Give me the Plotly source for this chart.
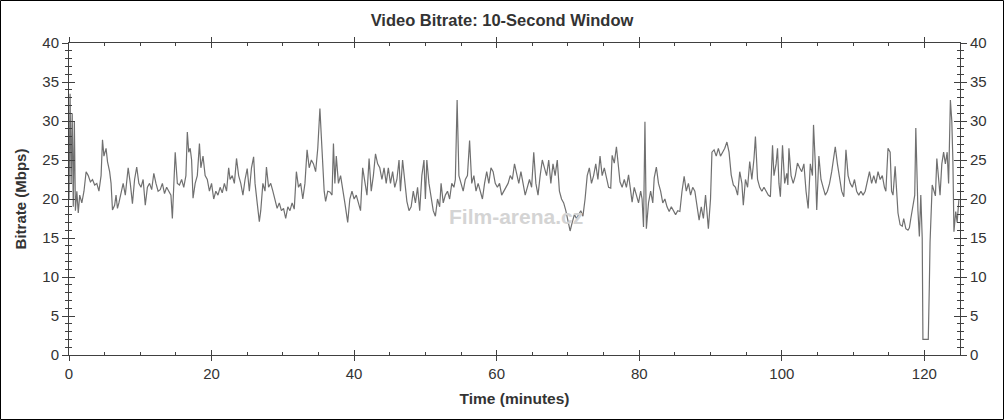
import plotly.graph_objects as go

# ---- data ----
time_min = [
0.0,0.15,0.3,0.45,0.6,0.75,0.9,1.1,1.3,1.5,1.8,2.1,2.4,2.7,3.0,3.3,3.6,3.9,4.2,4.5,4.7,4.9,5.2,5.4,5.7,5.9,6.1,6.4,6.6,6.8,
7.0,7.3,7.6,7.9,8.1,8.3,8.6,8.9,9.2,9.5,9.8,10.1,10.4,10.7,11.0,11.3,11.6,11.9,12.2,12.5,12.8,13.1,13.4,13.7,14.0,14.3,14.5,14.7,14.9,15.2,
15.5,15.8,16.1,16.4,16.6,16.8,17.0,17.2,17.4,17.7,18.0,18.3,18.5,18.8,19.1,19.4,19.7,20.0,20.3,20.6,20.9,21.2,21.5,21.8,22.1,22.4,22.6,22.9,23.2,23.5,
23.8,24.1,24.4,24.7,25.0,25.3,25.6,25.9,26.1,26.4,26.7,26.9,27.2,27.5,27.7,28.0,28.3,28.6,28.9,29.2,29.5,29.8,30.1,30.4,30.7,31.0,31.3,31.6,31.9,32.2,
32.5,32.8,33.1,33.4,33.7,34.0,34.3,34.6,34.9,35.2,35.4,35.6,35.8,36.0,36.3,36.6,36.9,37.1,37.3,37.5,37.8,38.1,38.4,38.7,39.1,39.4,39.7,40.0,40.3,40.6,
40.9,41.2,41.5,41.8,42.1,42.4,42.7,43.0,43.3,43.6,43.9,44.2,44.5,44.8,45.1,45.4,45.7,46.0,46.3,46.5,46.8,47.1,47.4,47.7,48.0,48.3,48.6,48.9,49.2,49.5,
49.8,50.0,50.2,50.5,50.8,51.1,51.4,51.7,52.0,52.2,52.5,52.8,53.1,53.4,53.7,54.0,54.2,54.45,54.7,55.0,55.3,55.6,55.9,56.2,56.5,56.8,57.1,57.4,57.7,58.0,
58.3,58.6,58.9,59.2,59.5,59.8,60.1,60.4,60.7,61.0,61.3,61.6,61.9,62.2,62.5,62.8,63.1,63.4,63.7,64.0,64.3,64.6,64.9,65.2,65.5,65.8,66.1,66.4,66.7,67.0,
67.3,67.6,67.9,68.2,68.5,68.8,69.1,69.4,69.7,70.0,70.3,70.6,70.9,71.2,71.5,71.8,72.1,72.4,72.7,73.0,73.3,73.6,73.9,74.2,74.5,74.8,75.1,75.4,75.7,76.0,
76.2,76.5,76.8,77.1,77.3,77.6,77.9,78.2,78.5,78.8,79.0,79.3,79.6,79.9,80.2,80.4,80.6,80.8,81.0,81.3,81.6,81.9,82.1,82.4,82.7,83.0,83.3,83.6,83.9,84.2,
84.5,84.8,85.1,85.4,85.7,86.0,86.3,86.6,86.9,87.2,87.5,87.8,88.1,88.4,88.7,89.0,89.3,89.5,89.7,90.0,90.2,90.5,90.8,91.1,91.4,91.7,92.0,92.3,92.6,92.9,
93.2,93.5,93.8,94.1,94.4,94.6,94.9,95.2,95.5,95.8,96.1,96.3,96.6,96.9,97.2,97.5,97.8,98.1,98.4,98.7,98.9,99.2,99.4,99.6,99.8,100.1,100.4,100.7,100.85,101.0,
101.3,101.6,101.9,102.2,102.5,102.8,103.1,103.4,103.7,104.0,104.3,104.45,104.7,104.9,105.2,105.5,105.8,106.1,106.4,106.7,107.0,107.3,107.5,107.8,108.1,108.4,108.7,109.0,109.3,109.6,
109.9,110.2,110.5,110.8,111.1,111.4,111.7,112.0,112.3,112.6,112.9,113.2,113.5,113.8,114.1,114.4,114.6,114.9,115.2,115.4,115.6,115.9,116.1,116.3,116.6,116.9,117.1,117.4,117.7,117.9,
118.1,118.3,118.5,118.65,118.8,118.95,119.1,119.3,119.5,119.7,119.8,120.2,120.55,120.7,120.8,121.1,121.3,121.55,121.75,122.0,122.2,122.45,122.7,122.95,123.2,123.4,123.65,123.85,124.0,124.15,
124.4,124.6,124.85,
]

bitrate_mbps = [
20.0,33.5,22,31,19,30,18.5,21,18.2,20.5,19.5,21,23.5,23,22.2,22.5,21.8,22,21,23,27.6,25.5,26.5,24.8,23.5,22,18.6,19.2,20.5,18.8,
19.5,21,22,20.5,22,24,22,19.4,22.5,24.1,22,21.5,22.5,19.2,21.5,22,21.2,23.3,22,21,21.2,22,20.7,21.5,21,20.5,17.5,21.5,26,22,
21.8,22.5,21.5,23,28.6,26,26.5,25,20.1,22,23,27.1,24,25.5,23,22.5,21,22,20,21,20.5,21.5,20.8,22,21,24,22.5,23,22,25.2,
23,22,20.5,22.5,23.9,21,24,25.4,22,19.5,17.1,18.5,22,21,24.1,21.5,22,21,20,18.8,19.5,18.5,18.8,17.5,19,18.5,19.5,18.7,23.5,21.5,
22,20,22,26.3,24,25,24.5,23.5,26.5,31.6,28,25,21,19.7,21,20.9,20.5,27.1,22,25.5,22,23,21.5,19.5,17,20,21,20,20.5,19.5,
18.5,24,22,20.5,25.2,21,23,25.8,24.5,24,22.5,24,22,24,22,23.5,21.5,22.5,25,21,25,22,19.7,18.5,19,21,19.5,21.5,18.5,23,
25,20,25,22,20,18.5,17.8,20,19,22,19.5,20.5,21,20,22,21.5,22.5,32.7,23,22,21,22.5,23,27.5,22,23,21,22,21,20,
22,23.5,22,24,23.5,22,21.5,22,20.5,21,21.5,22,23,22.5,24.5,23,22,23.5,22,20.5,21.5,22.5,21.5,26,22,20.5,23,25,24,23,
25,22,24.5,23,25,21,20,19.5,18.5,17,15.9,17,18,17.5,18,18.5,17.8,20,23,24,22,23,24.5,22.5,25.5,23,24,22.9,21.5,21.4,
25.6,24.6,26.7,24,22.2,21.5,22.5,21.5,23.1,21,19.6,21.5,20.5,19.5,21,20,16.4,29.9,16.2,19.5,21,19.5,22.7,24.1,22,21,19.5,20,19,18.4,
19,18.4,18,18.5,18.4,21,22.9,21,22,20.5,21.5,21,19,17.3,19,17.5,20.5,18,16.2,20,26,26.3,25.5,26.5,25.5,26,26.5,27.3,26,23.1,
21.8,21.5,20.5,23.5,22,19.2,22.5,21.5,24.8,22.5,25.2,28,22.5,21.5,21,21.5,21,20.5,20.3,26.9,23,24.5,26.5,22,20.3,26.9,22,23.3,21.8,26.5,
23,22,23,24.6,24,23.5,24.5,21,18.8,24.5,23,29.5,24.5,18.6,25.5,22.5,21.5,20.5,21,22,23.5,25.5,26.7,24.5,22.5,21,20.3,26.3,23,22,
21.5,22.5,21,20.5,21,20.5,21,22.5,23.5,22,23,22,23.5,22.5,23,21.5,21,26.5,26,21,20.5,24.2,20.5,18.2,16.7,16.5,17.5,16.2,16,16.3,
17.5,18.5,19.5,20.5,29.1,23,18.5,15.2,20.5,15,2.0,2.0,2.0,9,14.5,21.8,21,20.4,25.2,22,20.5,24.5,26,24.5,26,22,32.7,30,25,15.8,
18.4,17,20,
]

x_ticks = [0, 20, 40, 60, 80, 100, 120]
y_ticks = [0, 5, 10, 15, 20, 25, 30, 35, 40]

chart_title = "Video Bitrate: 10-Second Window"
x_title = "Time (minutes)"
y_title = "Bitrate (Mbps)"
watermark = "Film-arena.cz"

FONT = "Arial, Liberation Sans, sans-serif"
AX = "#404040"
TXT = "#333333"

fig = go.Figure()
fig.add_trace(go.Scatter(x=time_min, y=bitrate_mbps, mode="lines",
                         line=dict(color="#707070", width=1.2), hoverinfo="skip",
                         showlegend=False))
# empty traces so that the decorative overlay axes are drawn
fig.add_trace(go.Scatter(x=[], y=[], xaxis="x2", yaxis="y2", showlegend=False, hoverinfo="skip"))
fig.add_trace(go.Scatter(x=[], y=[], xaxis="x2", yaxis="y3", showlegend=False, hoverinfo="skip"))

fig.update_layout(
    width=1004, height=420,
    margin=dict(l=69, r=44, t=43, b=65),
    paper_bgcolor="white", plot_bgcolor="white",
    font=dict(family=FONT, color=TXT),
    title=dict(text="<b>" + chart_title + "</b>", x=0.5, xanchor="center",
               y=1 - 20 / 420, yanchor="middle", font=dict(size=16.5, color=TXT)),
    xaxis=dict(range=[0, 125], tickvals=x_ticks, ticks="outside", ticklen=5,
               tickcolor=AX, showline=True, linecolor=AX, linewidth=1, mirror="ticks",
               showgrid=False, zeroline=False, automargin=False,
               tickfont=dict(size=15, color=TXT),
               title=dict(text="<b>" + x_title + "</b>", font=dict(size=15.5, color=TXT), standoff=12)),
    xaxis2=dict(range=[0, 125], overlaying="x", anchor="y", tickvals=x_ticks, ticks="inside",
                ticklen=5, tickcolor=AX, mirror="ticks", showline=True, linecolor=AX,
                showgrid=False, automargin=False,
                zeroline=False, showticklabels=False,
                minor=dict(dtick=5, tick0=0, ticks="inside", ticklen=3, tickcolor=AX, showgrid=False)),
    yaxis=dict(range=[0, 40], tickvals=y_ticks, ticks="outside", ticklen=6, tickcolor=AX,
               showline=True, linecolor=AX, linewidth=1, showgrid=False, zeroline=False,
               automargin=False, tickfont=dict(size=15, color=TXT),
               minor=dict(dtick=1, tick0=0, ticks="outside", ticklen=3, tickcolor=AX, showgrid=False),
               title=dict(text="<b>" + y_title + "</b>", font=dict(size=15, color=TXT), standoff=12)),
    yaxis2=dict(range=[0, 40], overlaying="y", side="right", anchor="x2", tickvals=y_ticks,
                ticks="outside", ticklen=6, tickcolor=AX, showline=True, linecolor=AX,
                linewidth=1, showgrid=False, zeroline=False, automargin=False,
                tickfont=dict(size=15, color=TXT),
                minor=dict(dtick=1, tick0=0, ticks="outside", ticklen=3, tickcolor=AX, showgrid=False)),
    yaxis3=dict(range=[0, 40], overlaying="y", anchor="x2", tickvals=y_ticks, ticks="inside",
                ticklen=6, tickcolor=AX, mirror="ticks", showline=False, showgrid=False,
                zeroline=False, showticklabels=False, automargin=False,
                minor=dict(dtick=1, tick0=0, ticks="inside", ticklen=3, tickcolor=AX, showgrid=False)),
)

# watermark
fig.add_annotation(x=62.7, y=17.7, xref="x", yref="y", text="<b>" + watermark + "</b>",
                   showarrow=False, font=dict(size=21, color="#d4d4d4", family=FONT))

# outer frame of the image
W, H, L, T, B = 1004, 420, 69, 43, 65
pw, ph = W - L - 44, H - T - B
fig.add_shape(type="rect", xref="paper", yref="paper",
              x0=(0.5 - L) / pw, x1=(W - 0.5 - L) / pw,
              y0=(H - B - (H - 0.5)) / ph, y1=(H - B - 0.5) / ph,
              line=dict(color="black", width=1), fillcolor="rgba(0,0,0,0)", layer="above")

fig.write_html("out.html", config={"displayModeBar": False},
               post_script="document.body.style.margin='0px';document.body.style.overflow='hidden';")
